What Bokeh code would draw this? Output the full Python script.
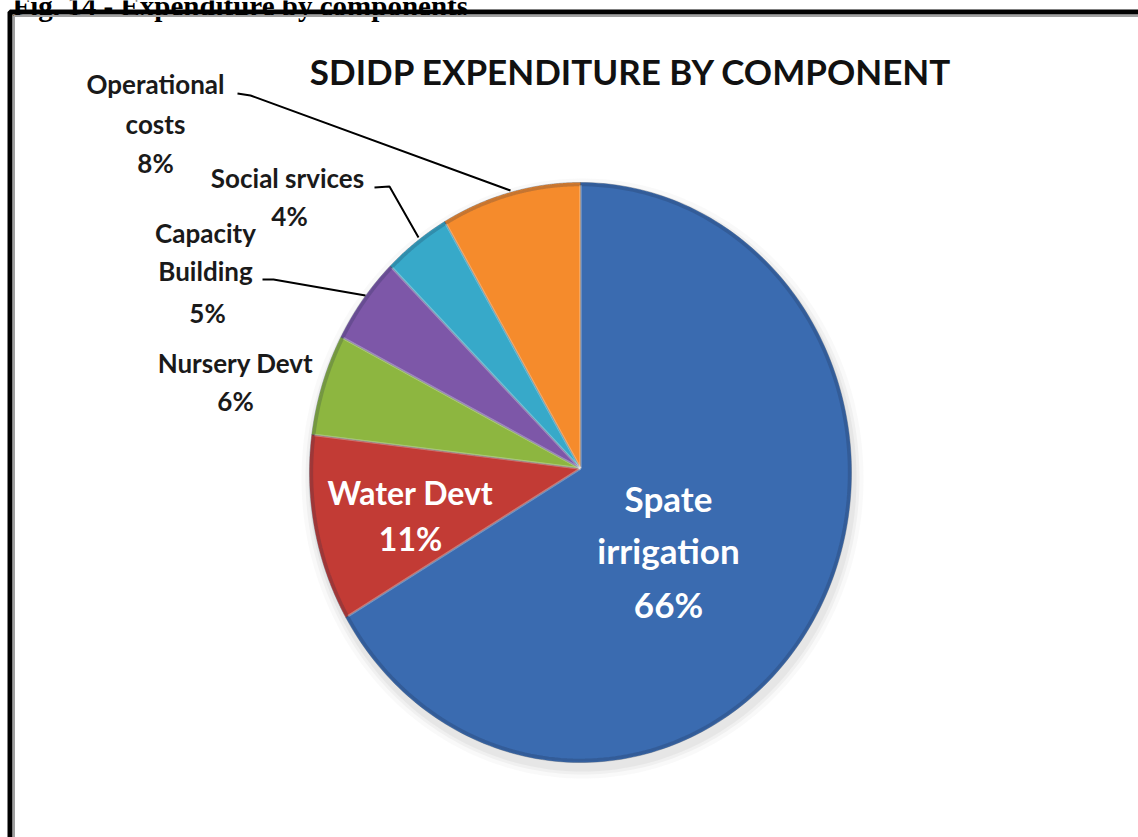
import numpy as np
from bokeh.plotting import figure
from bokeh.models import Range1d, ColumnDataSource
from bokeh.core.properties import value
from bokeh.embed import file_html
from bokeh.resources import INLINE

# ---- data ----
categories = ["Spate irrigation", "Water Devt", "Nursery Devt",
              "Capacity Building", "Social srvices", "Operational costs"]
shares = [66, 11, 6, 5, 4, 8]
colors = ["#3A6BB0", "#C23B35", "#8DB640", "#7D57A8", "#37A9C9", "#F58B2C"]
title_text = "SDIDP EXPENDITURE  BY COMPONENT"
caption_text = "Fig. 14 - Expenditure by components"

W, H = 1138, 837
p = figure(width=W, height=H, output_backend="svg", toolbar_location=None,
           x_range=Range1d(0, W), y_range=Range1d(H, 0), min_border=0,
           outline_line_color=None, background_fill_color="white")
p.axis.visible = False
p.grid.visible = False

# ---- pie geometry (3-D look: slightly tall ellipse, apex above its centre) ----
ax, ay = 580.0, 468.0      # apex
cx, cy = 580.0, 472.0      # ellipse centre
rx, ry = 271.0, 290.0

def boundary(theta):
    dx, dy = np.sin(theta), -np.cos(theta)
    ox, oy = ax - cx, ay - cy
    a = dx * dx / rx**2 + dy * dy / ry**2
    b = 2 * (ox * dx / rx**2 + oy * dy / ry**2)
    c = ox * ox / rx**2 + oy * oy / ry**2 - 1
    t = (-b + np.sqrt(b * b - 4 * a * c)) / (2 * a)
    return ax + t * dx, ay + t * dy

total = float(sum(shares))
cum = np.concatenate([[0], np.cumsum(shares)]) / total * 2 * np.pi
xs, ys, rim_x, rim_y, rad_x, rad_y = [], [], [], [], [], []
for i in range(len(shares)):
    th = np.linspace(cum[i], cum[i + 1], 200)
    pts = [boundary(t) for t in th]
    bx = np.array([q[0] for q in pts])
    by = np.array([q[1] for q in pts])
    xs.append([ax] + list(bx) + [ax])
    ys.append([ay] + list(by) + [ay])
    rim_x.append(list(ax + (bx - ax) * 0.992))
    rim_y.append(list(ay + (by - ay) * 0.992))
    # bevel highlight along the leading radial edge
    rad_x.append([ax, ax + (bx[0] - ax) * 0.99])
    rad_y.append([ay, ay + (by[0] - ay) * 0.99])

# soft drop shadow
sh = np.linspace(0, 2 * np.pi, 300)
for k, a_ in [(10, 0.05), (6, 0.07), (3, 0.09)]:
    p.patch(cx + (rx + k) * np.sin(sh) + 2, cy + (ry + k) * np.cos(sh) + 6,
            fill_color="#808080", fill_alpha=a_, line_color=None)

src = ColumnDataSource(dict(xs=xs, ys=ys, color=colors, name=categories))
p.patches("xs", "ys", source=src, fill_color="color", line_color="#2b3a55",
          line_width=0.8, line_alpha=0.45)
p.multi_line(rim_x, rim_y, line_color="#1c2a44", line_alpha=0.22, line_width=3)
p.multi_line(rad_x, rad_y, line_color="white", line_alpha=0.3, line_width=2.5)

# ---- title ----
p.text(x=[635], y=[70], text=[title_text], text_font=value("Lato"),
       text_font_size="35px", text_font_style="bold", text_color="#111111",
       text_align="center", text_baseline="middle")

# ---- caption (cut off at top) ----
p.text(x=[12], y=[5], text=[caption_text], text_font=value("Liberation Serif"),
       text_font_size="29px", text_font_style="bold", text_color="#000000",
       text_align="left", text_baseline="alphabetic")

# ---- frame ----
p.line(x=[9.5, 9.5, W + 10], y=[H + 10, 11.5, 11.5], line_color="black", line_width=5)
p.line(x=[13.5, 13.5, W + 10], y=[H + 10, 15.5, 15.5], line_color="#a0a0a0", line_width=2)

# ---- outside labels ----
pct = [f"{v}%" for v in shares]
out_lines = {
    5: (["Operational", "costs", pct[5]], [155, 155, 155], [83, 123, 162]),
    4: (["Social srvices", pct[4]], [287, 289], [177, 215]),
    3: (["Capacity", "Building", pct[3]], [205, 205, 207], [232, 270, 312]),
    2: (["Nursery Devt", pct[2]], [235, 235], [362, 400]),
}
for k, (txt, lx, ly) in out_lines.items():
    p.text(x=lx, y=ly, text=txt, text_font=value("Lato"), text_font_size="26px",
           text_font_style="bold", text_color="#1a1a1a",
           text_align="center", text_baseline="middle")

# leader lines
p.line(x=[237, 250, 510], y=[93, 95, 190], line_color="black", line_width=2)
p.line(x=[374, 389, 418], y=[187, 186, 237], line_color="black", line_width=2)
p.line(x=[262, 273, 365], y=[279, 279, 295], line_color="black", line_width=2)

# ---- inside labels ----
p.text(x=[410, 410], y=[492, 538], text=[categories[1], pct[1]],
       text_font=value("Lato"), text_font_size="32px", text_font_style="bold",
       text_color="white", text_align="center", text_baseline="middle")
p.text(x=[668, 668, 668], y=[497, 549, 603], text=["Spate", "irrigation", pct[0]],
       text_font=value("Lato"), text_font_size="35px", text_font_style="bold",
       text_color="white", text_align="center", text_baseline="middle")

open("out.html", "w").write(file_html(p, INLINE))
